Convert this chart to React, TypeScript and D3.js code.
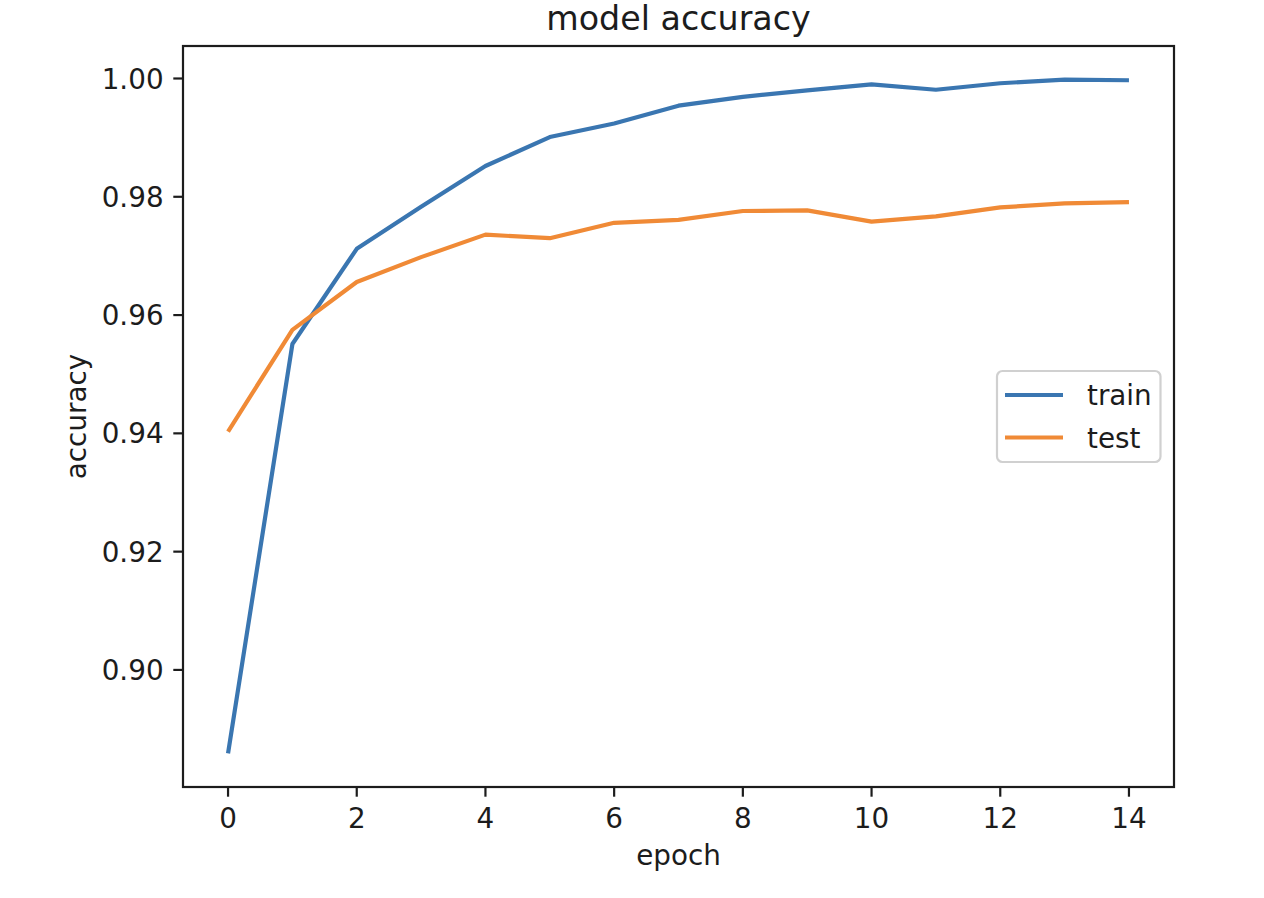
import React from "react";
import * as d3 from "d3";

const epochs = [0, 1, 2, 3, 4, 5, 6, 7, 8, 9, 10, 11, 12, 13, 14];
const trainAcc = [0.8859, 0.9551, 0.9712, 0.9783, 0.9852, 0.9901, 0.9924, 0.9954, 0.9969, 0.998, 0.999, 0.9981, 0.9992, 0.9998, 0.9997];
const testAcc = [0.9403, 0.9575, 0.9656, 0.9698, 0.9736, 0.973, 0.9756, 0.9761, 0.9776, 0.9777, 0.9758, 0.9767, 0.9782, 0.9789, 0.9791];
const xTicks = [0, 2, 4, 6, 8, 10, 12, 14];
const yTicks = [0.9, 0.92, 0.94, 0.96, 0.98, 1.0];
const seriesNames = ["train", "test"];
const seriesColors = ["#3a76b1", "#f08a36"];

const W = 1264;
const H = 898;
const M = { left: 183, right: 1174, top: 46, bottom: 787 };
const FONT = "'DejaVu Sans', sans-serif";
const FS = 27.8;
const INK = "#1c1c1c";

export default function App() {
  const allY = [...trainAcc, ...testAcc];
  const yMin = d3.min(allY) as number;
  const yMax = d3.max(allY) as number;
  const yPad = (yMax - yMin) * 0.05;
  const xMin = d3.min(epochs) as number;
  const xMax = d3.max(epochs) as number;
  const xPad = (xMax - xMin) * 0.05;

  const x = d3.scaleLinear().domain([xMin - xPad, xMax + xPad]).range([M.left, M.right]);
  const y = d3.scaleLinear().domain([yMin - yPad, yMax + yPad]).range([M.bottom, M.top]);

  const line = d3
    .line<number>()
    .x((_, i) => x(epochs[i]))
    .y((d) => y(d));

  const series = [trainAcc, testAcc];
  const tickLen = 9.7;
  const tickPad = 9.7;

  const legR = M.right - 13.5;
  const legL = 997;
  const legCy = (M.top + M.bottom) / 2;
  const legT = legCy - 45.5;
  const legB = legCy + 45.5;

  return (
    <svg
      width={W}
      height={H}
      style={{ position: "absolute", left: 0, top: 0, background: "#fff" }}
      fontFamily={FONT}
    >
      <rect x={0} y={0} width={W} height={H} fill="#fff" />
      <g>
        {series.map((s, i) => (
          <path
            key={i}
            d={line(s) || ""}
            fill="none"
            stroke={seriesColors[i]}
            strokeWidth={4.2}
            strokeLinejoin="round"
            strokeLinecap="butt"
          />
        ))}
      </g>
      <rect
        x={M.left}
        y={M.top}
        width={M.right - M.left}
        height={M.bottom - M.top}
        fill="none"
        stroke={INK}
        strokeWidth={2.2}
      />
      {xTicks.map((t) => (
        <g key={"x" + t}>
          <line x1={x(t)} x2={x(t)} y1={M.bottom} y2={M.bottom + tickLen} stroke={INK} strokeWidth={2.2} />
          <text x={x(t)} y={M.bottom + tickLen + tickPad + FS * 0.76} fontSize={FS} textAnchor="middle" fill={INK}>
            {t}
          </text>
        </g>
      ))}
      {yTicks.map((t) => (
        <g key={"y" + t}>
          <line x1={M.left - tickLen} x2={M.left} y1={y(t)} y2={y(t)} stroke={INK} strokeWidth={2.2} />
          <text
            x={M.left - tickLen - tickPad}
            y={y(t)}
            dy="0.36em"
            fontSize={FS}
            textAnchor="end"
            fill={INK}
          >
            {t.toFixed(2)}
          </text>
        </g>
      ))}
      <text x={(M.left + M.right) / 2} y={865} fontSize={FS} textAnchor="middle" fill={INK}>
        epoch
      </text>
      <text
        transform={`translate(86,${(M.top + M.bottom) / 2}) rotate(-90)`}
        fontSize={FS}
        textAnchor="middle"
        fill={INK}
      >
        accuracy
      </text>
      <text x={(M.left + M.right) / 2} y={30} fontSize={33.3} textAnchor="middle" fill={INK}>
        model accuracy
      </text>
      <rect
        x={legL}
        y={legT}
        width={legR - legL}
        height={legB - legT}
        rx={5.5}
        ry={5.5}
        fill="#fff"
        fillOpacity={0.8}
        stroke="#d0d0d0"
        strokeWidth={2.2}
      />
      {seriesNames.map((n, i) => {
        const ly = legCy - 21.5 + i * 42.5;
        return (
          <g key={n}>
            <line x1={1005} x2={1063} y1={ly} y2={ly} stroke={seriesColors[i]} strokeWidth={4.2} />
            <text x={1087} y={ly} dy="0.36em" fontSize={FS} fill={INK}>
              {n}
            </text>
          </g>
        );
      })}
    </svg>
  );
}
